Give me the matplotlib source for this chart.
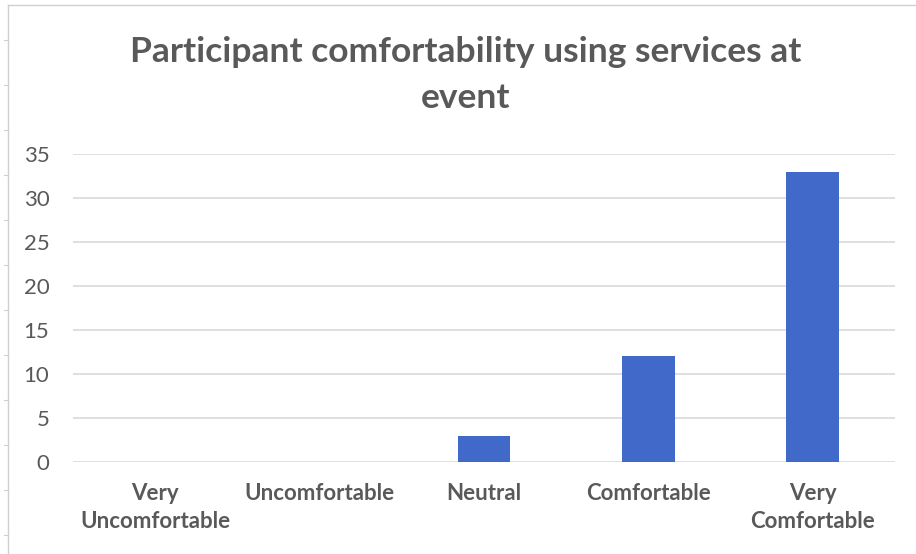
import matplotlib.pyplot as plt
from matplotlib.lines import Line2D

categories = ['Very\nUncomfortable', 'Uncomfortable', 'Neutral', 'Comfortable', 'Very\nComfortable']
counts = [0, 0, 3, 12, 33]
yticks = [0, 5, 10, 15, 20, 25, 30, 35]

plt.rcParams['font.family'] = ['Lato', 'DejaVu Sans']
grey = '#595959'

fig = plt.figure(figsize=(9.16, 5.54), dpi=100)
ax = fig.add_axes([73 / 916, 1 - 462 / 554, (895 - 73) / 916, (462 - 154) / 554])

x = range(len(categories))
ax.bar(x, counts, width=0.32, color='#4169C9', zorder=3)
ax.set_xlim(-0.5, len(categories) - 0.5)
ax.set_ylim(0, 35)
ax.set_yticks(yticks)
ax.set_yticklabels([str(t) for t in yticks], fontsize=16, color=grey)
ax.set_xticks(list(x))
ax.set_xticklabels(categories, fontsize=16, color=grey, fontweight='bold', linespacing=1.4)
ax.tick_params(length=0)
ax.tick_params(axis='y', pad=17)
ax.tick_params(axis='x', pad=15)
ax.grid(axis='y', color='#d9d9d9', linewidth=1.2, zorder=0)
for s in ax.spines.values():
    s.set_visible(False)

fig.text(466 / 916, 1 - 52 / 554, 'Participant comfortability using services at',
         ha='center', va='center', fontsize=25.5, fontweight='bold', color=grey)
fig.text(466 / 916, 1 - 98 / 554, 'event',
         ha='center', va='center', fontsize=25.5, fontweight='bold', color=grey)

# sheet cell border around the chart
fig.add_artist(Line2D([8 / 916, 1], [1 - 5 / 554, 1 - 5 / 554], color='#d0d0d0', lw=1))
fig.add_artist(Line2D([8 / 916, 8 / 916], [0, 1 - 5 / 554], color='#d0d0d0', lw=1))
for yy in [40, 85, 130, 175, 220, 265, 310, 355, 400, 445, 490, 535]:
    fig.add_artist(Line2D([4 / 916, 8 / 916], [1 - yy / 554, 1 - yy / 554], color='#d0d0d0', lw=0.8))

fig.savefig('out.png', dpi=100)
